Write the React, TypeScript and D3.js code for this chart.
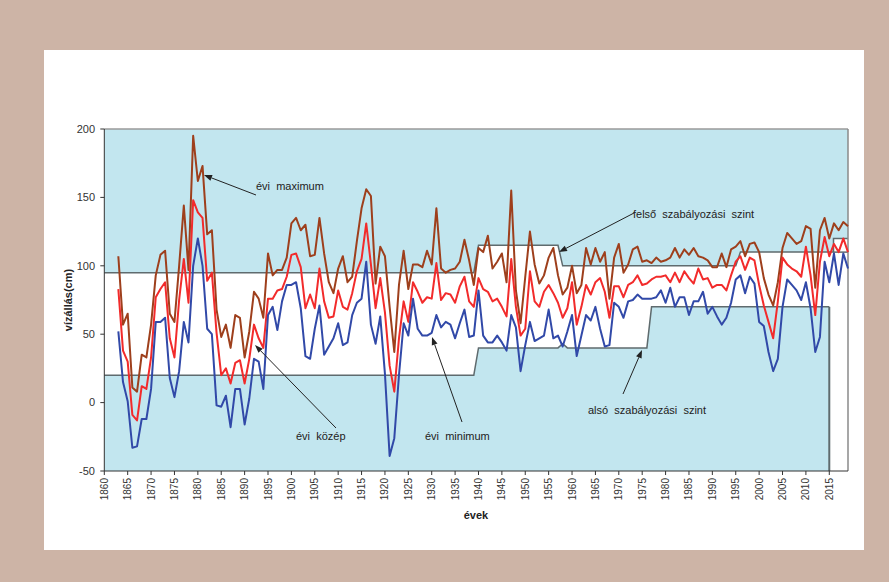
import React from "react";
import * as d3 from "d3";

const years: number[] = d3.range(1863, 2020);

const maxVals = [
  107, 57, 65, 11, 8, 35, 33, 57, 93, 108, 111, 65, 59, 100, 144, 97, 195, 162, 173, 123,
  126, 68, 48, 57, 40, 64, 62, 33, 52, 81, 76, 62, 109, 93, 97, 97, 106, 131, 135, 126,
  130, 107, 108, 135, 109, 88, 80, 98, 107, 88, 92, 118, 142, 156, 151, 87, 114, 107, 70, 37,
  86, 111, 83, 101, 101, 99, 111, 101, 142, 98, 95, 97, 98, 103, 119, 104, 86, 113, 110, 122,
  98, 103, 109, 88, 155, 82, 58, 92, 125, 101, 87, 93, 106, 113, 93, 79, 84, 100, 80, 86,
  113, 101, 113, 103, 110, 76, 106, 116, 95, 101, 112, 114, 103, 104, 102, 106, 103, 104, 106, 113,
  106, 112, 108, 113, 107, 106, 104, 99, 99, 109, 99, 112, 114, 118, 107, 116, 117, 110, 91, 79,
  71, 88, 113, 124, 120, 116, 118, 129, 127, 84, 126, 135, 120, 131, 126, 132, 129,
];

const meanVals = [
  83, 38, 30, -9, -13, 12, 10, 33, 77, 83, 88, 47, 33, 75, 105, 73, 148, 139, 135, 89,
  95, 51, 20, 25, 14, 29, 31, 14, 32, 57, 47, 40, 76, 76, 82, 83, 92, 108, 109, 99,
  69, 79, 69, 98, 74, 62, 63, 82, 70, 68, 80, 96, 105, 131, 101, 69, 91, 66, 27, 8,
  47, 74, 59, 88, 81, 73, 77, 76, 102, 75, 80, 79, 73, 85, 92, 74, 70, 91, 83, 81,
  74, 76, 70, 63, 105, 70, 49, 54, 96, 74, 70, 81, 86, 80, 73, 62, 69, 88, 57, 70,
  86, 79, 88, 91, 81, 62, 85, 85, 77, 86, 88, 93, 86, 87, 90, 92, 92, 93, 88, 95,
  88, 96, 91, 87, 98, 90, 91, 84, 86, 86, 82, 93, 103, 107, 97, 106, 104, 86, 71, 59,
  47, 74, 106, 101, 98, 96, 92, 114, 93, 64, 103, 121, 107, 116, 110, 120, 110,
];

const minVals = [
  52, 15, 1, -33, -32, -12, -12, 10, 59, 59, 62, 18, 4, 23, 59, 44, 100, 120, 100, 54,
  50, -2, -3, 5, -18, 10, 10, -16, 3, 32, 30, 10, 64, 70, 53, 74, 86, 86, 88, 69,
  34, 32, 54, 71, 35, 41, 47, 58, 42, 44, 64, 73, 76, 103, 57, 43, 63, 21, -39, -26,
  20, 58, 49, 76, 54, 49, 49, 51, 64, 55, 59, 57, 47, 58, 68, 48, 49, 82, 49, 44,
  44, 49, 44, 38, 64, 55, 23, 42, 59, 45, 47, 49, 68, 47, 49, 41, 52, 64, 34, 49,
  64, 60, 70, 54, 41, 42, 73, 70, 62, 74, 75, 79, 76, 76, 76, 77, 82, 73, 84, 70,
  77, 77, 64, 74, 74, 81, 65, 70, 63, 57, 62, 73, 90, 93, 80, 92, 87, 59, 56, 37,
  23, 32, 70, 90, 86, 82, 75, 88, 69, 37, 48, 103, 88, 109, 86, 109, 98,
];

// regulation levels (breakpoints)
const upperLevelYears = [1860, 1939, 1940, 1957, 1958, 1995, 1996, 2015.9, 2015.9, 2019];
const upperLevelVals = [95, 95, 115, 115, 100, 100, 110, 110, 120, 120];
const upperTailYears = [2015.9, 2019];
const upperTailVals = [110, 110];
const lowerLevelYears = [1860, 1939, 1940, 1957, 1958, 1959, 1976, 1977, 2015];
const lowerLevelVals = [20, 20, 40, 40, 43, 40, 40, 70, 70];

const yTicks = [-50, 0, 50, 100, 150, 200];
const xTicks = d3.range(1860, 2016, 5);

const W = 889;
const H = 582;
const FONT = "'Liberation Sans', Arial, sans-serif";

export default function App() {
  const x = d3.scaleLinear().domain([1860, 2019]).range([104.3, 848]);
  const y = d3.scaleLinear().domain([-50, 200]).range([471, 129]);

  const line = d3
    .line<[number, number]>()
    .x((d) => x(d[0]))
    .y((d) => y(d[1]));

  const upperPts: [number, number][] = upperLevelYears.map((yr, i) => [yr, upperLevelVals[i]]);
  const tailPts: [number, number][] = upperTailYears.map((yr, i) => [yr, upperTailVals[i]]);
  const lowerPts: [number, number][] = lowerLevelYears.map((yr, i) => [yr, lowerLevelVals[i]]);

  const upperArea = d3
    .area<[number, number]>()
    .x((d) => x(d[0]))
    .y0(() => y(200))
    .y1((d) => y(d[1]));
  const lowerArea = d3
    .area<[number, number]>()
    .x((d) => x(d[0]))
    .y0(() => y(-50))
    .y1((d) => y(d[1]));

  const series = [
    { vals: maxVals, color: "#9e3f1c" },
    { vals: meanVals, color: "#f22b2b" },
    { vals: minVals, color: "#3149a8" },
  ];

  const fill = "#c2e6ef";
  const levelColor = "#5f6b6e";

  const arrow = (x1: number, y1: number, x2: number, y2: number, key: string) => {
    const ang = Math.atan2(y2 - y1, x2 - x1);
    const L = 8;
    const Wd = 3;
    const bx = x2 - L * Math.cos(ang);
    const by = y2 - L * Math.sin(ang);
    const px = -Math.sin(ang) * Wd;
    const py = Math.cos(ang) * Wd;
    return (
      <g key={key}>
        <line x1={x1} y1={y1} x2={bx} y2={by} stroke="#222" strokeWidth={1} />
        <path d={`M${x2},${y2}L${bx + px},${by + py}L${bx - px},${by - py}Z`} fill="#222" />
      </g>
    );
  };

  const annots = [
    { text: "évi  maximum", tx: 256, ty: 190, a: [256, 195, 204, 175] },
    { text: "évi  közép", tx: 296, ty: 440, a: [336, 428, 255, 345] },
    { text: "évi  minimum", tx: 425, ty: 440, a: [462, 422, 432, 337] },
    { text: "felső  szabályozási  szint", tx: 633, ty: 218, a: [634, 213, 559, 252] },
    { text: "alsó  szabályozási  szint", tx: 588, ty: 414, a: [623, 394, 642, 350] },
  ];

  return (
    <svg
      width={W}
      height={H}
      style={{ position: "absolute", left: 0, top: 0 }}
      fontFamily={FONT}
    >
      <rect x={0} y={0} width={W} height={H} fill="#cdb4a6" />
      <rect x={44} y={50} width={820} height={500} fill="#ffffff" />

      {/* plot area */}
      <rect x={x(1860)} y={y(200)} width={x(2019) - x(1860)} height={y(-50) - y(200)} fill="#ffffff" />
      <path d={upperArea(upperPts) || ""} fill={fill} />
      <path d={lowerArea(lowerPts) || ""} fill={fill} />
      <path d={line(upperPts) || ""} fill="none" stroke={levelColor} strokeWidth={1.5} />
      <path d={line(tailPts) || ""} fill="none" stroke={levelColor} strokeWidth={1.5} />
      <path d={line(lowerPts) || ""} fill="none" stroke={levelColor} strokeWidth={1.5} />
      <line x1={x(2015)} x2={x(2015)} y1={y(70)} y2={y(-50)} stroke={levelColor} strokeWidth={2} />

      {/* frame */}
      <line x1={x(1860)} x2={x(2019)} y1={y(200)} y2={y(200)} stroke="#9a9a9a" strokeWidth={1.5} />
      <line x1={x(2019)} x2={x(2019)} y1={y(200)} y2={y(-50)} stroke="#8a8a8a" strokeWidth={1.5} />

      {/* series */}
      {series.map((s, i) => (
        <path
          key={i}
          d={line(years.map((yr, j) => [yr, s.vals[j]] as [number, number])) || ""}
          fill="none"
          stroke={s.color}
          strokeWidth={2}
          strokeLinejoin="round"
        />
      ))}

      {/* axes */}
      <line x1={x(1860)} x2={x(1860)} y1={y(200)} y2={y(-50)} stroke="#333" strokeWidth={1} />
      <line x1={x(1860)} x2={x(2019)} y1={y(-50)} y2={y(-50)} stroke="#333" strokeWidth={1} />
      {yTicks.map((t) => (
        <g key={t}>
          <line x1={x(1860) - 4} x2={x(1860)} y1={y(t)} y2={y(t)} stroke="#333" />
          <text x={95} y={y(t)} dy="0.35em" textAnchor="end" fontSize={11} fill="#333">
            {t}
          </text>
        </g>
      ))}
      {xTicks.map((t) => (
        <g key={t}>
          <line x1={x(t)} x2={x(t)} y1={y(-50)} y2={y(-50) + 4} stroke="#333" />
          <text
            transform={`translate(${x(t)},${478}) rotate(-90)`}
            dy="0.35em"
            textAnchor="end"
            fontSize={10}
            fill="#333"
          >
            {t}
          </text>
        </g>
      ))}
      <text x={476} y={519} textAnchor="middle" fontSize={11} fontWeight="bold" fill="#222">
        évek
      </text>
      <text
        transform={`translate(72,300) rotate(-90)`}
        textAnchor="middle"
        fontSize={11}
        fontWeight="bold"
        fill="#222"
      >
        vízállás(cm)
      </text>

      {/* annotations */}
      {annots.map((a, i) => (
        <g key={i}>
          {arrow(a.a[0], a.a[1], a.a[2], a.a[3], "ar" + i)}
          <text x={a.tx} y={a.ty} fontSize={11} fill="#222" style={{ whiteSpace: "pre" }}>
            {a.text}
          </text>
        </g>
      ))}
    </svg>
  );
}
